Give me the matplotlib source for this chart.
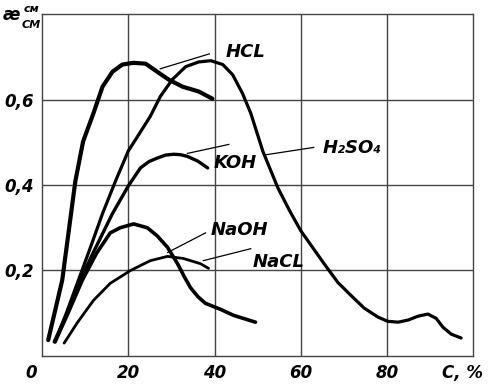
import matplotlib
matplotlib.use("Agg")
import matplotlib.pyplot as plt

# concentration, % / conductivity, cm/cm
hcl_c = [1.4, 4.65, 7.7, 9.5, 11.9, 14.0, 16.3, 18.6, 21.2, 24.0, 26.7, 29.3, 32.6, 36.3, 39.5]
hcl_k = [0.037, 0.177, 0.409, 0.502, 0.568, 0.630, 0.665, 0.682, 0.686, 0.684, 0.665, 0.647,
         0.630, 0.619, 0.602]

h2so4_c = [3.0, 5.6, 8.4, 11.2, 14.0, 17.0, 20.0, 22.6, 25.1, 27.4, 30.2, 33.3, 36.3, 39.1,
           41.9, 44.2, 46.5, 48.4, 51.2, 54.7, 57.4, 60.0, 65.4, 68.6, 71.6, 74.7, 77.9,
           80.2, 82.6, 84.9, 87.2, 89.5, 91.4, 93.0, 94.9, 97.2]
h2so4_k = [0.033, 0.100, 0.177, 0.254, 0.333, 0.409, 0.480, 0.521, 0.561, 0.607, 0.647, 0.677,
           0.688, 0.691, 0.682, 0.658, 0.614, 0.568, 0.479, 0.393, 0.340, 0.293, 0.216, 0.172,
           0.142, 0.112, 0.091, 0.081, 0.079, 0.084, 0.093, 0.098, 0.088, 0.067, 0.051, 0.042]

koh_c = [2.8, 5.8, 8.8, 12.1, 16.3, 20.0, 22.8, 24.8, 26.7, 28.6, 30.5, 32.1, 33.7, 36.1, 38.4]
koh_k = [0.033, 0.100, 0.177, 0.247, 0.333, 0.398, 0.440, 0.455, 0.463, 0.470, 0.472, 0.471,
         0.467, 0.456, 0.440]

naoh_c = [3.0, 6.0, 9.3, 12.6, 15.8, 18.1, 21.2, 24.4, 26.7, 29.1, 31.4, 33.0, 34.4, 36.2,
          37.9, 41.4, 44.4, 49.5]
naoh_k = [0.033, 0.100, 0.177, 0.240, 0.288, 0.300, 0.309, 0.300, 0.281, 0.254, 0.216, 0.185,
          0.160, 0.138, 0.123, 0.109, 0.095, 0.079]

nacl_c = [5.1, 8.1, 11.9, 15.8, 20.5, 25.1, 29.1, 32.8, 36.7, 38.6]
nacl_k = [0.030, 0.077, 0.130, 0.170, 0.200, 0.223, 0.233, 0.228, 0.216, 0.205]

# labels: name, leader start, leader end, text position
names = ["HCL", "H₂SO₄", "KOH", "NaOH", "NaCL"]
lead_from = [(27.4, 0.672), (51.4, 0.470), (33.7, 0.474), (29.1, 0.242), (37.4, 0.223)]
lead_to = [(38.8, 0.707), (63.0, 0.488), (43.3, 0.495), (37.9, 0.288), (48.4, 0.251)]
text_at = [(42.6, 0.712), (65.1, 0.486), (39.8, 0.451), (39.1, 0.295), (48.8, 0.221)]

x_ticks = [20, 40, 60, 80]
y_ticks = [0.2, 0.4, 0.6]

font = dict(fontweight="bold", fontstyle="italic", color="black")

fig = plt.figure(figsize=(4.96, 3.92), dpi=100)
ax = fig.add_axes([0.085, 0.092, 0.869, 0.872])

style = dict(color="black", solid_capstyle="round", solid_joinstyle="round")
ax.plot(hcl_c, hcl_k, lw=3.0, **style)
ax.plot(h2so4_c, h2so4_k, lw=2.3, **style)
ax.plot(koh_c, koh_k, lw=2.4, **style)
ax.plot(naoh_c, naoh_k, lw=2.6, **style)
ax.plot(nacl_c, nacl_k, lw=2.0, **style)

for name, a, b, t in zip(names, lead_from, lead_to, text_at):
    ax.plot([a[0], b[0]], [a[1], b[1]], color="black", lw=0.9)
    ax.text(t[0], t[1], name, ha="left", va="center", fontsize=13, **font)

ax.set_xlim(0, 100)
ax.set_ylim(0, 0.8)
ax.set_xticks(x_ticks)
ax.set_xticklabels([str(v) for v in x_ticks], fontsize=12, **font)
ax.set_yticks(y_ticks)
ax.set_yticklabels([("%.1f" % v).replace(".", ",") for v in y_ticks], fontsize=12, **font)
ax.tick_params(length=0, pad=6)
ax.grid(True, color="#444444", lw=1.0)
for s in ax.spines.values():
    s.set_color("#444444")
    s.set_linewidth(1.0)

ax.text(-2.5, -0.04, "0", ha="center", va="center", fontsize=12, **font)
ax.text(97.5, -0.04, "C, %", ha="center", va="center", fontsize=12, **font)

# axis name top left
fig.text(0.006, 0.962, "æ", ha="left", va="center", fontsize=12, **font)
fig.text(0.064, 0.978, "см", ha="center", va="center", fontsize=8, **font)
fig.text(0.062, 0.937, "СМ", ha="center", va="center", fontsize=8, **font)

fig.savefig("out.png", dpi=100)
